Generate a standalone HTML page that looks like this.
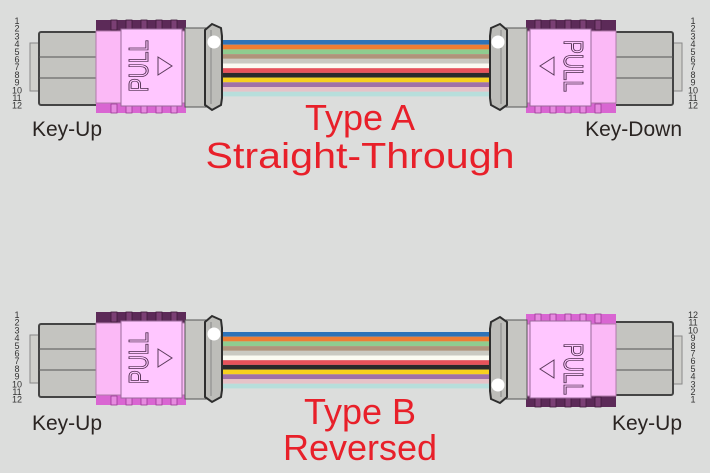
<!DOCTYPE html>
<html><head><meta charset="utf-8"><style>
html,body{margin:0;padding:0;background:#dcdddc;}
svg{display:block;}
</style></head><body>
<svg width="710" height="473" viewBox="0 0 710 473" xmlns="http://www.w3.org/2000/svg" font-family="Liberation Sans, sans-serif">
<rect width="710" height="473" fill="#dcdddc"/>
<defs>
<g id="fib">
<rect x="0" y="0" width="1" height="4.7" fill="#2e73b8"/>
<rect x="0" y="4.7" width="1" height="4.7" fill="#ee7d34"/>
<rect x="0" y="9.4" width="1" height="4.7" fill="#8fcc8f"/>
<rect x="0" y="14.1" width="1" height="4.7" fill="#b0937a"/>
<rect x="0" y="18.8" width="1" height="4.7" fill="#cacac2"/>
<rect x="0" y="23.5" width="1" height="4.7" fill="#fbfbf2"/>
<rect x="0" y="28.2" width="1" height="4.7" fill="#e8525a"/>
<rect x="0" y="32.9" width="1" height="4.7" fill="#2a2a2a"/>
<rect x="0" y="37.6" width="1" height="4.7" fill="#f7d11f"/>
<rect x="0" y="42.3" width="1" height="4.7" fill="#a071a8"/>
<rect x="0" y="47" width="1" height="4.7" fill="#e6c3c8"/>
<rect x="0" y="51.7" width="1" height="4.7" fill="#b7dedb"/>
</g>
<g id="conn">
<rect x="30" y="43" width="10" height="48" fill="#cfcfcb" stroke="#888" stroke-width="1"/>
<rect x="39" y="32" width="59" height="73" rx="2" fill="#c4c4c0" stroke="#444" stroke-width="2"/>
<line x1="39" y1="57" x2="98" y2="57" stroke="#555" stroke-width="1"/>
<line x1="39" y1="78" x2="98" y2="78" stroke="#555" stroke-width="1"/>
<rect x="96" y="20" width="90" height="12" fill="#5c2a58"/>
<g fill="#7a3f74" stroke="#3e1a3a" stroke-width="0.8">
<rect x="111" y="20" width="6" height="10"/><rect x="126" y="20" width="6" height="10"/><rect x="141" y="20" width="6" height="10"/><rect x="156" y="20" width="6" height="10"/><rect x="171" y="20" width="6" height="10"/>
</g>
<rect x="96" y="102" width="90" height="11" fill="#d966d2"/>
<g fill="#e78ae0" stroke="#9a3a94" stroke-width="0.8">
<rect x="111" y="104" width="6" height="9"/><rect x="126" y="104" width="6" height="9"/><rect x="141" y="104" width="6" height="9"/><rect x="156" y="104" width="6" height="9"/><rect x="171" y="104" width="6" height="9"/>
</g>
<rect x="96" y="31" width="90" height="72" fill="#fbb9f6" stroke="#b07aaa" stroke-width="1"/>
<rect x="121" y="29" width="61" height="77" fill="#ffc6ff" stroke="#9a6a9a" stroke-width="1"/>
<rect x="185" y="28" width="21" height="79" fill="#c6c6c2" stroke="#555" stroke-width="1"/>
<path d="M205 30 L212 24 L221 28 L222 36 L222 98 L221 105 L212 110 L205 105 Z" fill="#bdbdb9" stroke="#2e2e2e" stroke-width="2"/>
<line x1="211" y1="30" x2="211" y2="104" stroke="#888" stroke-width="1"/>
<circle cx="214" cy="42" r="6.5" fill="#fff"/>
</g>
</defs>

<use href="#fib" transform="translate(220,40) scale(272,1)"/>
<use href="#fib" transform="translate(220,332) scale(272,1)"/>

<use href="#conn"/>
<use href="#conn" transform="matrix(-1,0,0,1,712,0)"/>
<use href="#conn" transform="translate(0,292)"/>
<use href="#conn" transform="matrix(-1,0,0,-1,712,427)"/>

<g fill="none" stroke="#5a3a5a" stroke-width="1">
<polygon points="158,57 172,66 158,75"/>
<polygon points="554,57 540,66 554,75"/>
<polygon points="158,349 172,358 158,367"/>
<polygon points="554,360 540,369 554,378"/>
</g>
<g font-size="28" fill="#ffc6ff" stroke="#4a2a4a" stroke-width="0.9">
<text transform="translate(148,92) rotate(-90)" textLength="52" lengthAdjust="spacingAndGlyphs">PULL</text>
<text transform="translate(564,40) rotate(90)" textLength="52" lengthAdjust="spacingAndGlyphs">PULL</text>
<text transform="translate(148,384) rotate(-90)" textLength="52" lengthAdjust="spacingAndGlyphs">PULL</text>
<text transform="translate(564,343) rotate(90)" textLength="52" lengthAdjust="spacingAndGlyphs">PULL</text>
</g>

<g font-size="9" fill="#333" text-anchor="middle">
<text x="17" y="24">1</text><text x="17" y="31.7">2</text><text x="17" y="39.4">3</text><text x="17" y="47.1">4</text><text x="17" y="54.8">5</text><text x="17" y="62.5">6</text><text x="17" y="70.2">7</text><text x="17" y="77.9">8</text><text x="17" y="85.6">9</text><text x="17" y="93.3">10</text><text x="17" y="101">11</text><text x="17" y="108.7">12</text>
<text x="693" y="24">1</text><text x="693" y="31.7">2</text><text x="693" y="39.4">3</text><text x="693" y="47.1">4</text><text x="693" y="54.8">5</text><text x="693" y="62.5">6</text><text x="693" y="70.2">7</text><text x="693" y="77.9">8</text><text x="693" y="85.6">9</text><text x="693" y="93.3">10</text><text x="693" y="101">11</text><text x="693" y="108.7">12</text>
<text x="17" y="318">1</text><text x="17" y="325.7">2</text><text x="17" y="333.4">3</text><text x="17" y="341.1">4</text><text x="17" y="348.8">5</text><text x="17" y="356.5">6</text><text x="17" y="364.2">7</text><text x="17" y="371.9">8</text><text x="17" y="379.6">9</text><text x="17" y="387.3">10</text><text x="17" y="395">11</text><text x="17" y="402.7">12</text>
<text x="693" y="318">12</text><text x="693" y="325.7">11</text><text x="693" y="333.4">10</text><text x="693" y="341.1">9</text><text x="693" y="348.8">8</text><text x="693" y="356.5">7</text><text x="693" y="364.2">6</text><text x="693" y="371.9">5</text><text x="693" y="379.6">4</text><text x="693" y="387.3">3</text><text x="693" y="395">2</text><text x="693" y="402.7">1</text>
</g>

<g font-size="21" fill="#2a2422">
<text x="32" y="136">Key-Up</text>
<text x="682" y="136" text-anchor="end">Key-Down</text>
<text x="32" y="430">Key-Up</text>
<text x="682" y="430" text-anchor="end">Key-Up</text>
</g>

<g font-size="36" fill="#e8202a" text-anchor="middle">
<text x="360" y="130">Type A</text>
<text x="360" y="168" textLength="309" lengthAdjust="spacingAndGlyphs">Straight-Through</text>
<text x="360" y="424">Type B</text>
<text x="360" y="460">Reversed</text>
</g>
</svg>
</body></html>
